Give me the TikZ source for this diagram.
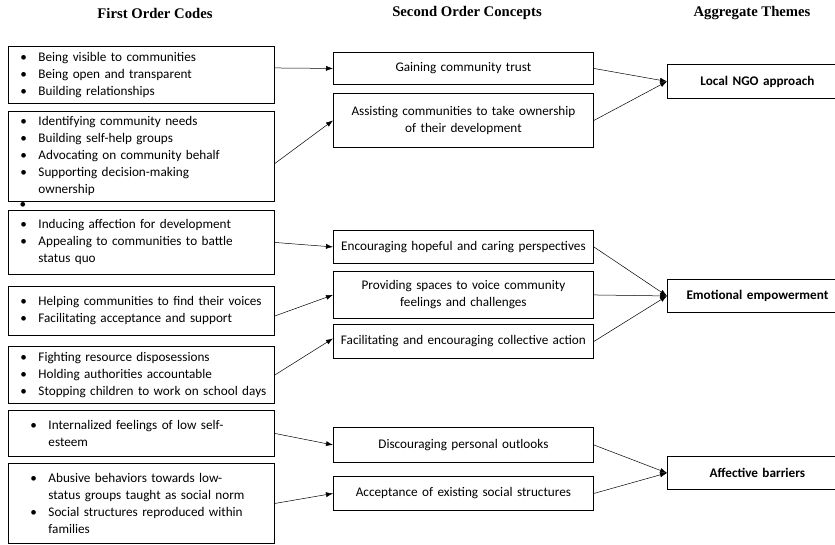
\documentclass[tikz,border=0pt]{standalone}
\usepackage{fontspec}
\setmainfont{Carlito}
\newfontfamily\headfont{Liberation Serif}
\usetikzlibrary{arrows.meta}
% bullet for the code lists, and the indent of a wrapped line
\newcommand{\bitem}{\hspace*{8pt}\makebox[18pt][l]{\textbullet}}
\newcommand{\bcont}{\hspace*{26pt}}
\tikzset{
  header/.style={font=\headfont\bfseries\fontsize{14.7}{17}\selectfont},
  codebox/.style={draw, line width=0.9pt, anchor=north west, inner xsep=4pt,
    inner ysep=0pt, text width=258pt, align=left,
    font=\fontsize{13.2}{17}\selectfont},
  conceptbox/.style={draw, line width=0.9pt, anchor=north west, inner xsep=6pt,
    inner ysep=0pt, text width=248pt, align=center,
    font=\fontsize{13.2}{17}\selectfont},
  themebox/.style={draw, line width=0.9pt, anchor=north west, inner xsep=10pt,
    inner ysep=0pt, text width=160pt, align=center,
    font=\bfseries\fontsize{13.2}{17}\selectfont},
  link/.style={line width=0.5pt, -{Latex[length=7pt,width=5pt]}}
}
\begin{document}
\begin{tikzpicture}[x=1pt,y=-1pt]
\useasboundingbox (0,0) rectangle (835,545);
% column titles
\node[header] (h1) at (155,13) {First Order Codes};
\node[header] (h2) at (467,13) {Second Order Concepts};
\node[header] (h3) at (752,13) {Aggregate Themes};
% first order codes
\node[codebox, minimum height=57pt] (c1) at (8,46)
  {\bitem Being visible to communities\\
   \bitem Being open and transparent\\
   \bitem Building relationships};
\node[codebox, minimum height=90pt] (c2) at (8,111)
  {\bitem Identifying community needs\\
   \bitem Building self-help groups\\
   \bitem Advocating on community behalf\\
   \bitem Supporting decision-making\\
   \bcont ownership};
\node[font=\fontsize{13.2}{17}\selectfont, inner sep=0pt] (stray) at (23,205) {\textbullet};
\node[codebox, minimum height=64pt] (c3) at (8,210)
  {\bitem Inducing affection for development\\
   \bitem Appealing to communities to battle\\
   \bcont status quo};
\node[codebox, minimum height=49pt] (c4) at (8,286)
  {\bitem Helping communities to find their voices\\
   \bitem Facilitating acceptance and support};
\node[codebox, minimum height=57pt] (c5) at (8,346)
  {\bitem Fighting resource disposessions\\
   \bitem Holding authorities accountable\\
   \bitem Stopping children to work on school days};
\node[codebox, inner xsep=14pt, text width=238pt, minimum height=46pt] (c6) at (8,410)
  {\bitem Internalized feelings of low self-\\
   \bcont esteem};
\node[codebox, inner xsep=14pt, text width=238pt, minimum height=80pt] (c7) at (8,463)
  {\bitem Abusive behaviors towards low-\\
   \bcont status groups taught as social norm\\
   \bitem Social structures reproduced within\\
   \bcont families};
% second order concepts
\node[conceptbox, minimum height=32pt] (s1) at (333,52) {Gaining community trust};
\node[conceptbox, minimum height=54pt] (s2) at (333,93)
  {Assisting communities to take ownership\\ of their development};
\node[conceptbox, minimum height=33pt] (s3) at (333,230)
  {Encouraging hopeful and caring perspectives};
\node[conceptbox, minimum height=47pt] (s4) at (333,271)
  {Providing spaces to voice community\\ feelings and challenges};
\node[conceptbox, minimum height=34pt] (s5) at (333,324)
  {Facilitating and encouraging collective action};
\node[conceptbox, minimum height=35pt] (s6) at (333,427)
  {Discouraging personal outlooks};
\node[conceptbox, minimum height=34pt] (s7) at (333,476)
  {Acceptance of existing social structures};
% aggregate themes
\node[themebox, minimum height=34pt] (t1) at (667,64) {Local NGO approach};
\node[themebox, minimum height=33pt] (t2) at (667,279) {Emotional empowerment};
\node[themebox, minimum height=33pt] (t3) at (667,456) {Affective barriers};
% codes to concepts
\draw[link] ([yshift=7pt]c1.east) -- (s1.west);
\draw[link] ([yshift=-7pt]c2.east) -- (s2.west);
\draw[link] (c3.east) -- (s3.west);
\draw[link] ([yshift=-5pt]c4.east) -- (s4.west);
\draw[link] (c5.east) -- ([yshift=3pt]s5.west);
\draw[link] (c6.east) -- (s6.west);
\draw[link] (c7.east) -- (s7.west);
% concepts to themes
\foreach \s in {s1,s2} \draw[link] (\s.east) -- (t1.west);
\foreach \s in {s3,s4,s5} \draw[link] (\s.east) -- (t2.west);
\foreach \s in {s6,s7} \draw[link] (\s.east) -- (t3.west);
\end{tikzpicture}
\end{document}
